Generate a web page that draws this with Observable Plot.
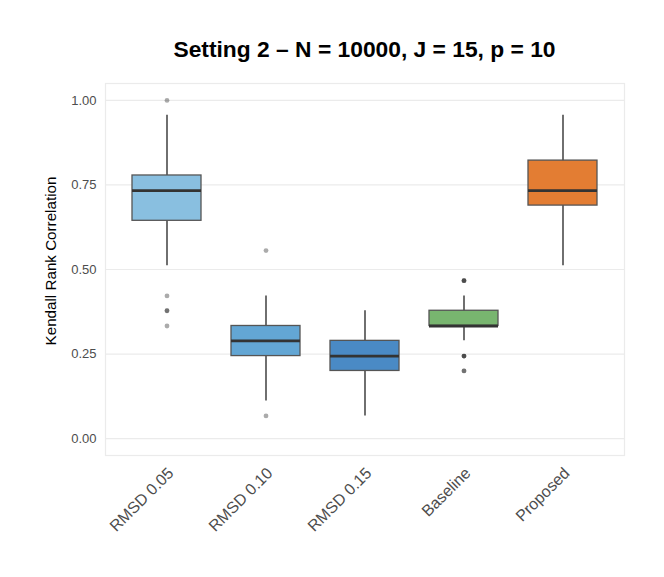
<!DOCTYPE html>
<html>
<head>
<meta charset="utf-8">
<script src="https://cdn.jsdelivr.net/npm/d3@7"></script>
<script src="https://cdn.jsdelivr.net/npm/@observablehq/plot@0.6"></script>
<style>
  body { margin: 0; background: #fff; }
  #wrap { position: relative; width: 664px; height: 577px; font-family: "Liberation Sans", Arial, sans-serif; }
  #title { position: absolute; z-index: 2; left: 105px; width: 519px; top: 38px; text-align: center; font-weight: bold; font-size: 22.8px; line-height: 1; color: #000; white-space: nowrap; }
  #ylabel { position: absolute; z-index: 2; left: -99px; top: 253px; width: 300px; height: 16px; line-height: 16px; text-align: center; font-size: 15.2px; color: #000; transform: rotate(-90deg); transform-origin: 150px 8px; white-space: nowrap; }
  #wrap svg { position: absolute; left: 0; top: 0; z-index: 1; }
</style>
</head>
<body>
<div id="wrap"><div id="title">Setting 2 – N = 10000, J = 15, p = 10</div><div id="ylabel">Kendall Rank Correlation</div></div>
<script>
const categories  = ["RMSD 0.05", "RMSD 0.10", "RMSD 0.15", "Baseline", "Proposed"];
const whiskerLow  = [0.511, 0.111, 0.067, 0.289, 0.511];
const q1          = [0.644, 0.244, 0.200, 0.333, 0.689];
const median      = [0.733, 0.289, 0.244, 0.333, 0.733];
const q3          = [0.778, 0.333, 0.289, 0.378, 0.822];
const whiskerHigh = [0.956, 0.422, 0.378, 0.422, 0.956];
const boxColors   = ["#89bfe0", "#63a6d4", "#4a8ac5", "#78b56f", "#e37d33"];

const outlierCategory = ["RMSD 0.05", "RMSD 0.05", "RMSD 0.05", "RMSD 0.05", "RMSD 0.05",
                         "RMSD 0.10", "RMSD 0.10",
                         "Baseline", "Baseline", "Baseline", "Baseline", "Baseline", "Baseline", "Baseline", "Baseline"];
const outlierValue    = [1.000, 0.422, 0.378, 0.378, 0.333,
                         0.556, 0.067,
                         0.467, 0.467, 0.467, 0.244, 0.244, 0.244, 0.200, 0.200];

const yTicks = [0, 0.25, 0.5, 0.75, 1];

const boxes = categories.map((c, i) => ({cat: c, lo: whiskerLow[i], q1: q1[i], med: median[i], q3: q3[i], hi: whiskerHigh[i]}));
const outliers = outlierCategory.map((c, i) => ({cat: c, value: outlierValue[i]}));

const chart = Plot.plot({
  width: 664,
  height: 577,
  marginTop: 83,
  marginBottom: 122,
  marginLeft: 105,
  marginRight: 40,
  style: {fontFamily: "Liberation Sans, Arial, sans-serif", background: "white"},
  x: {type: "band", domain: categories, paddingInner: 0.3, paddingOuter: 0.25, align: 0.5},
  y: {domain: [-0.05, 1.05]},
  color: {domain: categories, range: boxColors},
  marks: [
    Plot.gridY(yTicks, {stroke: "#ebebeb", strokeOpacity: 1, strokeWidth: 1.2}),
    Plot.frame({stroke: "#ebebeb", strokeWidth: 1.2}),
    Plot.ruleX(boxes, {x: "cat", y1: "lo", y2: "hi", stroke: "#333", strokeWidth: 1.4}),
    Plot.barY(boxes, {x: "cat", y1: "q1", y2: "q3", fill: "cat", stroke: "#555", strokeWidth: 1.3}),
    Plot.tickY(boxes, {x: "cat", y: "med", stroke: "#333", strokeWidth: 2.8}),
    Plot.dot(outliers, {x: "cat", y: "value", r: 2.4, fill: "#000", fillOpacity: 0.33, stroke: "none"}),
    Plot.axisY(yTicks, {tickSize: 0, tickPadding: 9, fontSize: 13, color: "#4d4d4d", tickFormat: d => d.toFixed(2), label: null}),
    Plot.axisX({tickRotate: -45, tickSize: 0, tickPadding: 15, dx: 4, fontSize: 16, color: "#4d4d4d", label: null})
  ]
});
document.getElementById("wrap").appendChild(chart);
</script>
</body>
</html>
